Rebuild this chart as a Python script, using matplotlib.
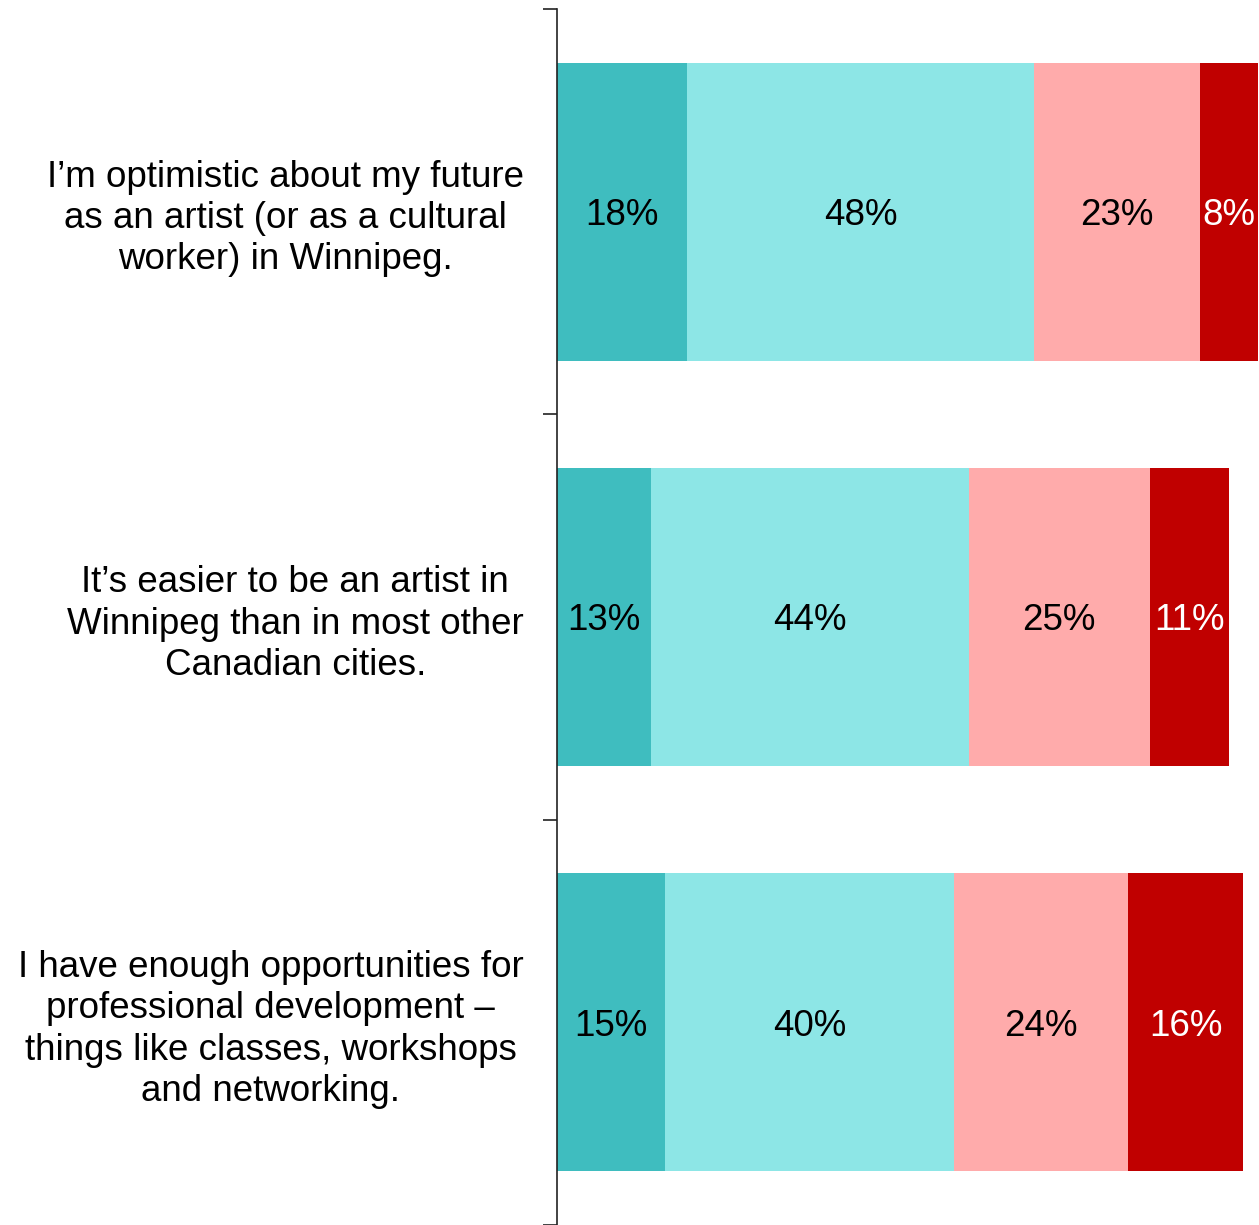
import matplotlib.pyplot as plt
import numpy as np

plt.rcParams["font.family"] = ["Liberation Sans", "DejaVu Sans"]

statements = [
    "I’m optimistic about my future\nas an artist (or as a cultural\nworker) in Winnipeg.",
    "It’s easier to be an artist in\nWinnipeg than in most other\nCanadian cities.",
    "I have enough opportunities for\nprofessional development –\nthings like classes, workshops\nand networking.",
]
strongly_agree = [18, 13, 15]
somewhat_agree = [48, 44, 40]
somewhat_disagree = [23, 25, 24]
strongly_disagree = [8, 11, 16]

series = [strongly_agree, somewhat_agree, somewhat_disagree, strongly_disagree]
colors = ["#3FBDBF", "#8DE6E6", "#FFABAB", "#C00000"]
text_colors = ["black", "black", "black", "white"]

fig = plt.figure(figsize=(12.59, 12.25), dpi=100)
ax = fig.add_axes([557 / 1259, 0.0, 1 - 557 / 1259, 1 - 9 / 1225])

y = np.arange(len(statements))
left = np.zeros(len(statements))
for vals, col, tcol in zip(series, colors, text_colors):
    vals = np.array(vals, dtype=float)
    ax.barh(y, vals, left=left, height=0.735, color=col, edgecolor="none")
    for yi, l, v in zip(y, left, vals):
        ax.text(l + v / 2, yi, f"{int(v)}%", ha="center", va="center_baseline",
                fontsize=26.5, color=tcol)
    left += vals

ax.set_xlim(0, 97.15)
ax.set_ylim(2.5, -0.5)

ax.set_yticks(y)
ax.set_yticklabels(statements, fontsize=26.5)
for lab in ax.get_yticklabels():
    lab.set_multialignment("center")
    lab.set_linespacing(1.23)
ax.tick_params(axis="y", which="major", length=0, pad=24)
ax.set_yticks([-0.5, 0.5, 1.5, 2.5], minor=True)
ax.tick_params(axis="y", which="minor", length=10, width=1.2, color="#222222")
ax.set_xticks([])

for s in ("top", "right", "bottom"):
    ax.spines[s].set_visible(False)
ax.spines["left"].set_linewidth(1.2)
ax.spines["left"].set_color("#222222")

fig.savefig("out.png", dpi=100)
